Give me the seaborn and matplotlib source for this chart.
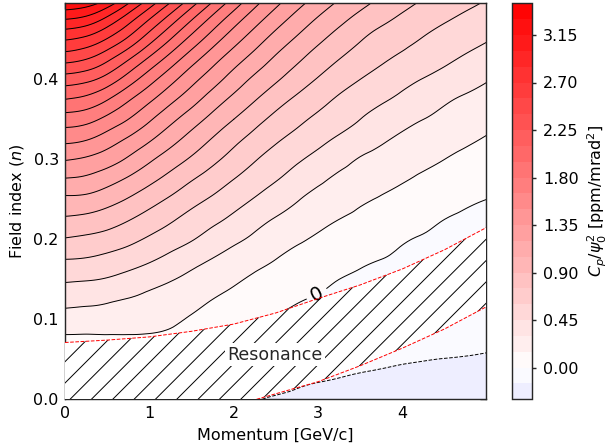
import numpy as np
import matplotlib
matplotlib.use("Agg")
import matplotlib.pyplot as plt
import matplotlib.tri as mtri
from matplotlib.colors import Normalize
import seaborn as sns

# Momentum [GeV/c] (columns) and field index n (rows)
momentum = [0.0, 0.25, 0.5, 0.75, 1.0, 1.25, 1.5, 1.75, 2.0, 2.25, 2.5,
            2.75, 3.0, 3.25, 3.5, 3.75, 4.0, 4.25, 4.5, 4.75, 5.0]
field_index = [0.000, 0.025, 0.050, 0.075, 0.100, 0.125, 0.150, 0.175, 0.200, 0.225,
               0.250, 0.275, 0.300, 0.325, 0.350, 0.375, 0.400, 0.425, 0.450, 0.475, 0.500]

# C_p / psi_0^2 in units of 0.01 ppm/mrad^2, one row per field index
cp_n000 = [-11, -12, -13, -13, -13, -14, -14, -14, -14, -14.6, -15.8, -16.9, -17.7, -18.2, -18.6, -18.9, -19.1, -19.2, -19.2, -19.2, -19.3]
cp_n025 = [-7, -8, -9, -10, -11, -11, -11, -11, -11, -12, -12.1, -13.4, -14.5, -15.2, -15.9, -16.3, -16.7, -17.0, -17.2, -17.3, -17.4]
cp_n050 = [0, 0, -1, -2, -3, -5, -6, -7, -7, -8, -8.4, -10.0, -11.3, -12.3, -13.1, -13.8, -14.4, -14.8, -15.1, -15.3, -15.6]
cp_n075 = [12, 12, 12, 12, 11, 8, 3, 0, -2, -4, -4.7, -6.5, -8.1, -9.3, -10.4, -11.3, -12.0, -12.6, -13.0, -13.4, -13.7]
cp_n100 = [24, 23, 23, 22, 22, 19, 13, 8, 4, 1, -1.0, -3.1, -4.9, -6.4, -7.7, -8.8, -9.7, -10.4, -10.9, -11.4, -11.9]
cp_n125 = [35, 34, 32, 29.5, 27, 24, 20, 15, 11, 7, 4, 1, -1, -3, -5, -6, -7, -8, -9, -10, -11]
cp_n150 = [47, 46, 44, 40, 35.5, 31, 26.5, 21.5, 17, 13, 9.5, 6, 3, 0, -2, -4, -5, -6, -7, -9, -10]
cp_n175 = [60, 59, 56, 52, 47, 41, 35, 29.5, 24, 19, 15, 11, 8, 5, 2, 0, -2, -4, -6, -7, -8]
cp_n200 = [74, 72, 69, 64, 58, 52, 46, 39, 33, 27, 21, 17, 13, 10, 7, 4, 1, -1, -3, -5, -7]
cp_n225 = [88, 86, 82, 76, 69, 62, 55, 48.5, 42, 35, 29, 24, 19, 15, 12, 9, 6, 3, 0, -2, -4]
cp_n250 = [102, 101, 96, 89, 81, 73, 65, 58, 51, 44, 37, 31, 25, 21, 17, 14, 11, 8, 5, 2, 0]
cp_n275 = [119, 117, 111, 103, 94, 85, 76, 68, 60, 53, 46, 39, 33, 27, 23, 19, 16, 13, 10, 7, 4]
cp_n300 = [136, 133, 127, 118, 107.5, 97.5, 88, 78.5, 69.5, 61, 54, 47, 41, 35, 29, 25, 21, 18, 15, 12, 9]
cp_n325 = [154, 151, 143, 133, 122, 110.5, 99.5, 89, 79, 70, 62, 55.5, 49, 43, 37.5, 32, 27.5, 23.5, 20, 17, 14]
cp_n350 = [173, 170, 161, 150, 137, 124, 112, 100.5, 90, 80, 71, 63.5, 57, 51, 45, 39, 34, 30, 26, 22, 19]
cp_n375 = [195, 191, 181, 167, 153, 139, 126, 113, 101.5, 91, 81, 72.5, 65, 58, 52, 47, 42, 37, 32, 28, 25]
cp_n400 = [218, 214, 204, 188, 171, 155, 140, 126.5, 113.5, 102, 92, 82.5, 74, 66.5, 60, 54.5, 49, 44.5, 40, 35.5, 31]
cp_n425 = [245, 240, 228, 211, 192, 173.5, 156, 140.5, 126.5, 114, 102.5, 92.5, 83, 75, 68, 62, 57, 52, 47.5, 43, 38.5]
cp_n450 = [271, 266, 254, 237, 216, 195, 175, 157, 141, 127, 114, 103, 93, 84, 76, 69, 64, 59, 54, 50, 46]
cp_n475 = [300, 295, 281, 261.5, 240, 218, 196, 175.5, 157, 141, 127, 114.5, 103.5, 94, 85.5, 78.5, 72, 66.5, 61.5, 57, 53]
cp_n500 = [332, 328, 315, 292, 268, 244.5, 221, 198, 176.5, 157, 141, 127.5, 115.5, 105, 96, 88, 81, 74.5, 69, 64.5, 60]

# edges of the resonance band
res_upper_p = [0.0, 0.5, 1.0, 1.5, 2.0, 2.5, 3.0, 3.5, 4.0, 4.5, 5.0]
res_upper_n = [0.071, 0.074, 0.078, 0.085, 0.094, 0.108, 0.126, 0.143, 0.163, 0.187, 0.215]
res_lower_p = [0.0, 2.27, 2.6, 3.0, 3.5, 4.0, 4.5, 5.0]
res_lower_n = [0.0, 0.0, 0.010, 0.022, 0.042, 0.064, 0.088, 0.116]

levels = np.round(np.arange(-0.30, 3.451, 0.15), 2)
cbar_ticks = levels[2::3]

rows = [cp_n000, cp_n025, cp_n050, cp_n075, cp_n100, cp_n125, cp_n150, cp_n175, cp_n200,
        cp_n225, cp_n250, cp_n275, cp_n300, cp_n325, cp_n350, cp_n375, cp_n400, cp_n425,
        cp_n450, cp_n475, cp_n500]
C = np.array(rows, dtype=float) / 100.0
P, N = np.meshgrid(momentum, field_index)

# smooth the table with a cubic interpolator on a triangulation where both axes
# have comparable spans (n scaled by 10), then map back to real n
Z = C.ravel()
tri_s = mtri.Triangulation(P.ravel(), N.ravel() * 10)
interp = mtri.CubicTriInterpolator(tri_s, Z, kind="min_E")
tri_f, C_f = mtri.UniformTriRefiner(tri_s).refine_field(Z, triinterpolator=interp, subdiv=3)
tri_plot = mtri.Triangulation(tri_f.x, tri_f.y / 10, tri_f.triangles)

sns.set_style("white")
DPI = 128
plt.rcParams["hatch.linewidth"] = 0.55

fig = plt.figure(figsize=(612 / DPI, 444 / DPI), dpi=DPI)
ax = fig.add_axes([65 / 612, 1 - 399.3 / 444, 421 / 612, 396 / 444])
cax = fig.add_axes([512.3 / 612, 1 - 399.3 / 444, 20 / 612, 396 / 444])

norm = Normalize(vmin=-3.45, vmax=3.45)
cf = ax.tricontourf(tri_plot, C_f, levels=levels, cmap="bwr", norm=norm)
ax.tricontour(tri_plot, C_f, levels=levels[levels != 0], colors="k", linewidths=0.55)
zero = ax.tricontour(tri_plot, C_f, levels=[0.0], colors="k", linewidths=0.55)
ax.clabel(zero, fmt="%.0f", fontsize=11, manual=[(3.0, 0.128)], inline=True)

# resonance band: blanked and hatched
xs = np.linspace(0, 5, 300)
ax.fill_between(xs, np.interp(xs, res_lower_p, res_lower_n), np.interp(xs, res_upper_p, res_upper_n),
                facecolor="white", edgecolor="k", hatch="//", linewidth=0, zorder=3)
ax.plot(res_upper_p, res_upper_n, color="red", ls="--", lw=0.55, zorder=4)
ax.plot(res_lower_p[1:], res_lower_n[1:], color="red", ls="--", lw=0.55, zorder=4)
ax.text(2.49, 0.056, "Resonance", fontsize=9.8, ha="center", va="center", zorder=5,
        bbox=dict(facecolor="white", edgecolor="none", pad=1.5))

ax.set_xlim(0, 4.99)
ax.set_ylim(0, 0.495)
ax.set_xticks([0, 1, 2, 3, 4])
ax.set_yticks([0.0, 0.1, 0.2, 0.3, 0.4])
ax.set_xlabel("Momentum [GeV/c]", fontsize=9, color="k")
ax.set_ylabel("Field index ($n$)", fontsize=9, color="k")
ax.tick_params(direction="in", top=True, right=True, length=3.5, labelsize=9, labelcolor="k")

cb = fig.colorbar(cf, cax=cax)
cb.set_ticks(cbar_ticks)
cb.set_ticklabels([f"{t:.2f}" for t in cbar_ticks])
cb.ax.tick_params(labelsize=9, length=2.5, labelcolor="k")
cb.set_label(r"$C_p/\psi_0^2$ [ppm/mrad$^2$]", fontsize=9, color="k")

fig.savefig("out.png", dpi=DPI)
